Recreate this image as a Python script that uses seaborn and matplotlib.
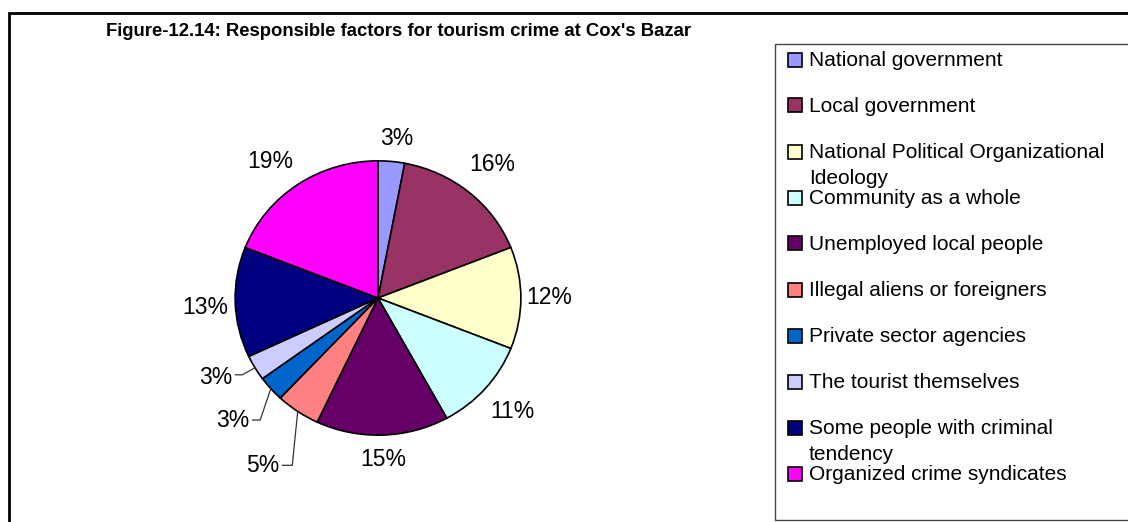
import matplotlib
matplotlib.use("Agg")
import numpy as np
import matplotlib.pyplot as plt
from matplotlib.patches import Rectangle
from matplotlib.lines import Line2D
import seaborn as sns

sns.set_theme(style="white")
plt.rcParams["font.family"] = ["Liberation Sans", "DejaVu Sans"]

# Survey shares (%) of factors responsible for tourism crime
categories = [
    "National government",
    "Local government",
    "National Political Organizational\nIdeology",
    "Community as a whole",
    "Unemployed local people",
    "Illegal aliens or foreigners",
    "Private sector agencies",
    "The tourist themselves",
    "Some people with criminal\ntendency",
    "Organized crime syndicates",
]
values = [3, 16, 12, 11, 15, 5, 3, 3, 13, 19]
colors = ["#9999FF", "#993366", "#FFFFCC", "#CCFFFF", "#660066",
          "#FF8080", "#0066CC", "#CCCCFF", "#000080", "#FF00FF"]

title = "Figure-12.14: Responsible factors for tourism crime at Cox's Bazar"

W, H = 1128, 522
fig = plt.figure(figsize=(W / 100, H / 100), dpi=100)
fig.patch.set_facecolor("white")

# pie axes (pixel layout converted to figure fractions)
ax = fig.add_axes([178 / W, 32 / H, 400 / W, 384 / H])
wedges, _ = ax.pie(values, colors=colors, startangle=90, counterclock=False,
                   radius=1.0,
                   wedgeprops=dict(edgecolor="black", linewidth=1.2))
ax.set_aspect("auto")
ax.set_xlim(-1.4, 1.4)
ax.set_ylim(-1.4, 1.4)
ax.axis("off")

# radial distance / angular nudge (deg) of each percentage label;
# None -> label placed beside the pie with a leader line
label_r = [1.17, 1.26, 1.2, 1.25, 1.18, None, None, None, 1.21, 1.25]
label_dt = [-1, 0, 0, 0, 0, 0, 0, 0, 1.5, 3]
# leader-line layouts for the thin slices: (bend point, label point)
leaders = {
    5: ((-0.60, -1.22), (-0.69, -1.225)),
    6: ((-0.825, -0.89), (-0.90, -0.895)),
    7: ((-0.95, -0.56), (-1.02, -0.58)),
}
lab_fs = 16.5
for i, (w, v) in enumerate(zip(wedges, values)):
    mid = np.deg2rad((w.theta1 + w.theta2) / 2)
    txt = f"{v}%"
    if label_r[i] is not None:
        r = label_r[i]
        a = mid + np.deg2rad(label_dt[i])
        ax.text(r * np.cos(a), r * np.sin(a), txt, ha="center",
                va="center", fontsize=lab_fs, color="black", clip_on=False)
    else:
        (bx, by), (tx, ty) = leaders[i]
        ex, ey = np.cos(mid), np.sin(mid)
        ax.add_line(Line2D([ex, bx, tx + 0.02], [ey, by, by], color="#333333",
                           linewidth=0.9, clip_on=False))
        ax.text(tx, ty, txt, ha="right", va="center", fontsize=lab_fs,
                color="black", clip_on=False)

# title
fig.text(399 / W, 1 - 32 / H, title, ha="center", va="center",
         fontsize=13.3, fontweight="bold", color="black")

# outer chart frame (continues past the right/bottom edges)
fig.add_artist(Rectangle((8.5 / W, -0.1), 1.2, 1.1 - 12.5 / H,
                         transform=fig.transFigure, fill=False,
                         edgecolor="black", linewidth=2.0))

# legend box
fig.add_artist(Rectangle((775 / W, 2 / H), (1140 - 775) / W, (520 - 44) / H,
                         transform=fig.transFigure, fill=False,
                         edgecolor="#444444", linewidth=1.0))

leg_fs = 15
row0, step, line_gap = 59.5, 46, 26
for i, (cat, col) in enumerate(zip(categories, colors)):
    yc = row0 + step * i
    fig.add_artist(Rectangle((787.5 / W, 1 - (yc + 7) / H), 14 / W, 14 / H,
                             transform=fig.transFigure, facecolor=col,
                             edgecolor="black", linewidth=1.2))
    for k, line in enumerate(cat.split("\n")):
        fig.text(809 / W, 1 - (yc + 1.5 + k * line_gap) / H, line, ha="left",
                 va="center", fontsize=leg_fs, color="black")

fig.savefig("out.png", dpi=100, facecolor="white")
